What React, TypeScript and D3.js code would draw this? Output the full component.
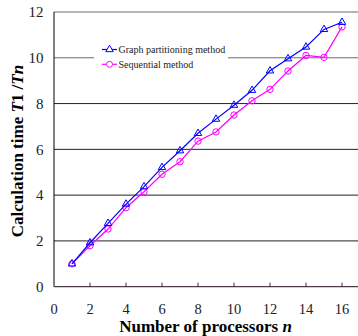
import React from "react";
import * as d3 from "d3";

const processors = [1, 2, 3, 4, 5, 6, 7, 8, 9, 10, 11, 12, 13, 14, 15, 16];
const graphPartitioning = [1.0, 1.92, 2.77, 3.61, 4.37, 5.21, 5.94, 6.7, 7.32, 7.93, 8.58, 9.43, 9.96, 10.47, 11.24, 11.55];
const sequential = [1.0, 1.79, 2.52, 3.45, 4.15, 4.91, 5.46, 6.36, 6.76, 7.5, 8.12, 8.62, 9.42, 10.1, 10.02, 11.35];
const xTicks = [0, 2, 4, 6, 8, 10, 12, 14, 16];
const yTicks = [0, 2, 4, 6, 8, 10, 12];
const seriesNames = ["Graph partitioning method", "Sequential method"];

const W = 358, H = 336;
const left = 54, top = 12, bottom = 286.7;

export default function App() {
  const x = d3.scaleLinear().domain([0, 17]).range([left, left + 17 * 18]);
  const y = d3.scaleLinear().domain([0, 12]).range([bottom, top]);
  const line = d3.line<[number, number]>().x(d => x(d[0])).y(d => y(d[1]));
  const blue = "#0000ff", magenta = "#ff00ff";
  const bluePts: [number, number][] = processors.map((p, i) => [p, graphPartitioning[i]]);
  const magPts: [number, number][] = processors.map((p, i) => [p, sequential[i]]);
  const tri = d3.symbol().type(d3.symbolTriangle).size(24)() as string;
  const ff = { fontFamily: "'Liberation Serif', 'Times New Roman', Times, serif" };
  return (
    <svg width={W} height={H} style={{ position: "absolute", left: 0, top: 0 }}>
      <rect width={W} height={H} fill="#fff" />
      {yTicks.filter(t => t > 0).map(t => (
        <line key={t} x1={left} x2={W} y1={y(t)} y2={y(t)} stroke={t === 10 || t === 12 ? "#6a6a6a" : "#222"} strokeWidth={1} />
      ))}
      <line x1={left} x2={left} y1={top} y2={bottom} stroke="#000" strokeWidth={1} />
      <line x1={left} x2={W} y1={bottom} y2={bottom} stroke="#4a3a4a" strokeWidth={1.2} />
      {xTicks.filter(t => t > 0).map(t => (
        <line key={t} x1={x(t)} x2={x(t)} y1={bottom} y2={bottom - 4} stroke="#333" strokeWidth={1} />
      ))}
      {yTicks.map(t => (
        <text key={t} x={43.5} y={y(t)} dy="0.35em" textAnchor="end" fontSize={15} fill="#222" style={ff}>{t}</text>
      ))}
      {xTicks.map(t => (
        <text key={t} x={x(t)} y={309} dy="0.35em" textAnchor="middle" fontSize={14.5} fill="#222" style={ff}>{t}</text>
      ))}
      {/* legend */}
      <rect x={94} y={40} width={134} height={32} fill="#fff" />
      <line x1={102} x2={117} y1={49.5} y2={49.5} stroke={blue} strokeWidth={1.2} />
      <path d={tri} transform={`translate(109.5,49.5)`} fill="#fff" stroke={blue} strokeWidth={1} />
      <text x={118.5} y={49.5} dy="0.35em" fontSize={10} fill="#222" style={ff}>{seriesNames[0]}</text>
      <line x1={102} x2={117} y1={64.3} y2={64.3} stroke={magenta} strokeWidth={1.2} />
      <circle cx={109.5} cy={64.3} r={3} fill="#fff" stroke={magenta} strokeWidth={1} />
      <text x={118.5} y={64.3} dy="0.35em" fontSize={10} fill="#222" style={ff}>{seriesNames[1]}</text>
      {/* series */}
      <path d={line(magPts) as string} fill="none" stroke={magenta} strokeWidth={1.2} />
      {magPts.map((d, i) => (
        <circle key={i} cx={x(d[0])} cy={y(d[1])} r={3.2} fill="none" stroke={magenta} strokeWidth={1} />
      ))}
      <path d={line(bluePts) as string} fill="none" stroke={blue} strokeWidth={1.2} />
      {bluePts.map((d, i) => (
        <path key={i} d={tri} transform={`translate(${x(d[0])},${y(d[1])})`} fill="none" stroke={blue} strokeWidth={1} />
      ))}
      {/* titles */}
      <text x={205.5} y={332} textAnchor="middle" fontSize={17} fontWeight="bold" fill="#000" style={ff}>
        Number of processors <tspan fontStyle="italic">n</tspan>
      </text>
      <text transform="translate(22.5,151) rotate(-90)" textAnchor="middle" fontSize={17} fontWeight="bold" fill="#000" style={ff}>
        Calculation time <tspan fontStyle="italic">T</tspan>1 /<tspan fontStyle="italic">Tn</tspan>
      </text>
    </svg>
  );
}
